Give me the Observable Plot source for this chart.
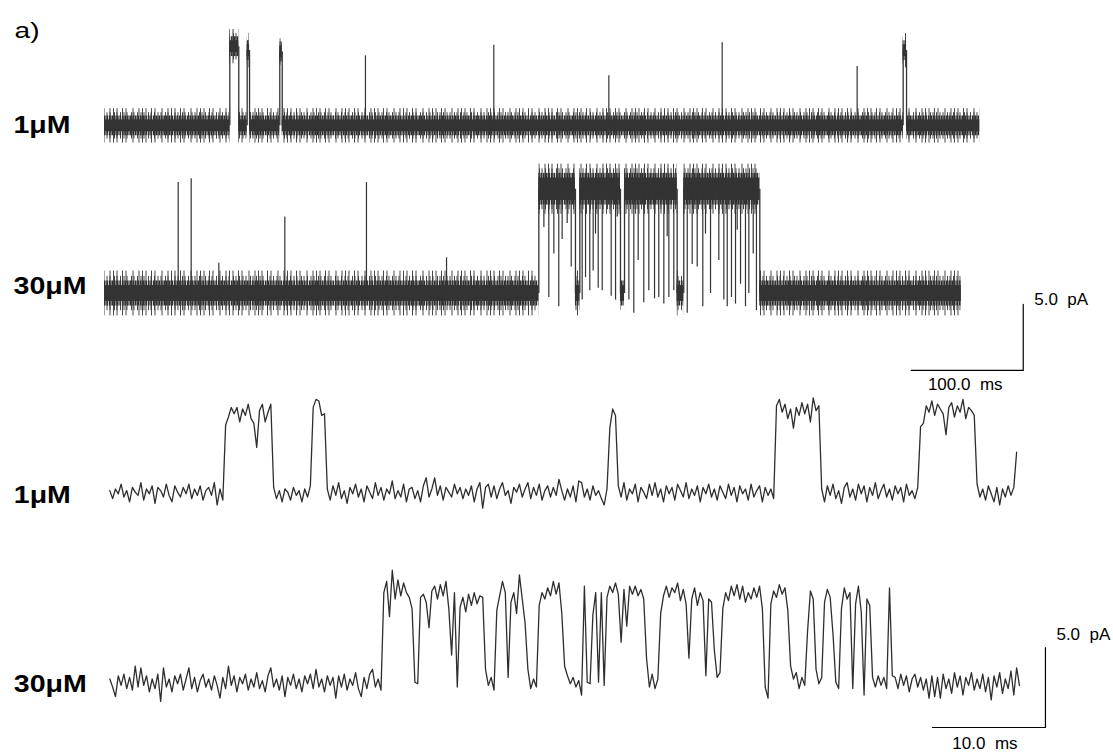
<!DOCTYPE html>
<html>
<head>
<meta charset="utf-8">
<script src="https://cdn.jsdelivr.net/npm/d3@7"></script>
<script src="https://cdn.jsdelivr.net/npm/@observablehq/plot@0.6"></script>
<style>
  html, body { margin: 0; padding: 0; background: #fff; overflow: hidden; }
  #figure { position: relative; width: 1113px; height: 755px; }
  #figure svg { display: block; }
</style>
</head>
<body>
<!-- hatch fills used for the fringes of the compressed noise bands -->
<svg width="0" height="0" style="position:absolute">
  <defs>
    <pattern id="noise-body" patternUnits="userSpaceOnUse" width="13" height="8">
      <rect width="13" height="8" fill="#333" fill-opacity="0.25"/>
      <g stroke="#333" stroke-width="1">
        <line x1="0.5" y1="0" x2="0.5" y2="8"/><line x1="2" y1="0" x2="2" y2="8"/>
        <line x1="3.5" y1="0" x2="3.5" y2="8"/><line x1="5.5" y1="0" x2="5.5" y2="8"/>
        <line x1="7" y1="0" x2="7" y2="8"/><line x1="8.5" y1="0" x2="8.5" y2="8"/>
        <line x1="10.5" y1="0" x2="10.5" y2="8"/><line x1="12" y1="0" x2="12" y2="8"/>
      </g>
    </pattern>
    <pattern id="noise-mid" patternUnits="userSpaceOnUse" width="17" height="8">
      <g stroke="#333" stroke-width="0.9">
        <line x1="1.5" y1="0" x2="1.5" y2="8"/><line x1="5" y1="0" x2="5" y2="8"/>
        <line x1="8" y1="0" x2="8" y2="8"/><line x1="12.5" y1="0" x2="12.5" y2="8"/>
        <line x1="15" y1="0" x2="15" y2="8"/>
      </g>
    </pattern>
    <pattern id="noise-fringe" patternUnits="userSpaceOnUse" width="29" height="8">
      <g stroke="#333" stroke-width="0.9">
        <line x1="1" y1="0" x2="1" y2="8"/><line x1="6.5" y1="0" x2="6.5" y2="8"/>
        <line x1="10" y1="0" x2="10" y2="8"/><line x1="17" y1="0" x2="17" y2="8"/>
        <line x1="23" y1="0" x2="23" y2="8"/><line x1="26.5" y1="0" x2="26.5" y2="8"/>
      </g>
    </pattern>
  </defs>
</svg>
<div id="figure"></div>
<script>
// ---------------------------------------------------------------
// Single-channel recordings at 1 μM and 30 μM agonist.
// Time in ms, current in pA measured from the closed level.
// ---------------------------------------------------------------

const panelLabel = "a)";
const rowLabels = ["1μM", "30μM"];

// ---- long sweeps (upper pair, 100 ms scale) ----
// dwell periods: [start ms, end ms, level pA]
const dwell1uM = [
  [0, 111.9, 0], [111.9, 119.9, 6.0], [119.9, 127.4, 0], [127.4, 129.5, 5.7],
  [129.5, 156.5, 0], [156.5, 158.7, 5.6], [158.7, 713.1, 0], [713.1, 716.1, 5.7],
  [716.1, 781.5, 0]
];
const dwell30uM = [
  [0, 387.8, 0], [387.8, 420.5, 7.9], [420.5, 424.4, 0], [424.4, 460.7, 7.9],
  [460.7, 464.3, 0], [464.3, 511.3, 7.9], [511.3, 517.2, 0], [517.2, 585.1, 7.9],
  [585.1, 765.0, 0]
];
// openings too short to resolve at this scale: [time ms, peak pA]
const brief1uM = [[233.0, 5.3], [347.6, 6.1], [450.3, 3.8], [551.5, 6.3], [672.0, 4.5]];
const brief30uM = [[65.8, 8.4], [77.4, 8.7], [102.1, 2.3], [161.0, 5.8], [233.9, 8.4], [305.4, 2.7]];
// brief closures inside the 30 μM burst: [time ms, lowest pA]
const closures30uM = [
  [392.3, 5.0], [396.7, -0.3], [401.2, 3.0], [405.6, -1.0], [408.6, 4.1], [413.1, 5.3],
  [416.7, 2.0], [426.5, -0.5], [429.5, 1.2], [433.3, 0.2], [436.3, 1.7], [438.4, 4.5],
  [440.8, 0.4], [444.4, 0.2], [452.4, -0.2], [456.3, -0.5], [457.8, 5.8], [468.2, -0.5],
  [472.6, -1.5], [476.5, 2.5], [481.5, -0.7], [486.0, 0.2], [491.1, -0.4], [494.9, -0.3],
  [499.4, -0.8], [502.4, 4.3], [503.9, -0.3], [508.3, 0.2], [520.3, -1.5], [524.7, 2.2],
  [529.2, 2.0], [534.2, -1.0], [536.6, 4.5], [541.1, 0.0], [548.5, 2.5], [553.0, -0.5],
  [556.0, -1.0], [559.8, -0.3], [563.4, -0.8], [564.9, 4.8], [567.9, 0.7], [572.3, -1.0],
  [575.3, 0.0], [579.2, 3.0], [582.1, -1.3]
];
// half-widths (pA) of the noise band, from the dense core out to the rare excursions
const noise1uM = [0.45, 0.75, 1.0, 1.3];
const noise30uMClosed = [0.6, 0.95, 1.3, 1.7];
const noise30uMOpen = [0.85, 1.2, 1.55, 1.9];

// ---- expanded sweeps (lower pair, 10 ms scale), sampled every 0.25 ms ----
const sampleMs = 0.25;
const trace1uM = [
  0.1,-0.4,0.2,-0.1,0.5,-0.3,0.1,-0.6,0.3,0.0,
  -0.2,0.6,-0.5,0.2,-0.1,0.4,-0.7,0.3,0.1,-0.3,
  0.5,-0.2,-0.6,0.4,0.0,-0.3,0.3,-0.1,0.5,-0.4,
  0.2,-0.2,0.4,-0.5,0.1,0.3,-0.2,0.6,-0.8,0.2,
  -0.5,
  4.2,4.7,5.3,4.9,5.3,4.4,5.2,4.8,5.5,4.6,4.3,2.8,5.1,5.5,4.4,5.0,5.5,
  0.3,-0.4,0.1,-0.6,0.2,0.0,-0.5,0.3,-0.2,0.1,-0.6,0.2,-0.3,0.4,
  5.3,5.8,5.7,4.8,4.9,
  0.2,-0.5,0.4,-0.2,0.6,-0.4,0.1,-0.7,0.3,-0.1,
  0.5,-0.3,0.2,-0.6,0.4,0.0,-0.4,0.6,-0.2,0.3,
  -0.5,0.2,-0.1,0.7,-0.4,0.1,-0.3,0.5,-0.6,0.2,
  0.3,-0.4,0.1,-0.6,0.4,0.9,-0.3,0.2,0.9,-0.2,
  0.4,-0.5,0.3,0.0,-0.3,0.5,-0.1,0.3,-0.4,0.2,
  -0.2,0.4,-0.6,0.2,0.6,-1.0,0.3,0.5,-0.3,0.4,
  -0.4,0.2,0.6,-0.2,0.1,-0.7,0.3,0.0,0.5,-0.3,
  0.2,0.6,-0.4,0.3,-0.2,0.5,-0.5,0.1,0.4,-0.3,
  0.3,-0.2,0.8,0.1,-0.5,0.2,-0.3,0.4,-0.6,0.7,
  0.6,-0.3,0.2,-0.5,0.4,-0.2,0.1,-0.4,-0.8,0.2,
  4.0,5.2,4.8,
  0.4,-0.3,0.6,-0.5,0.2,-0.1,0.5,-0.6,0.3,0.0,
  -0.4,0.5,-0.2,0.6,-0.3,0.2,-0.6,0.4,-0.1,0.3,
  -0.5,0.5,0.1,-0.3,0.6,-0.4,0.2,-0.2,0.4,-0.6,
  0.3,-0.1,0.5,-0.3,0.2,-0.5,0.4,0.0,-0.4,0.5,
  -0.2,0.3,-0.6,0.4,-0.1,0.2,-0.5,0.5,-0.3,0.1,
  0.4,-0.6,0.3,-0.2,0.2,-0.4,
  5.4,5.8,5.0,5.5,4.6,5.2,4.0,5.3,4.8,5.6,4.9,5.5,4.4,5.9,5.1,5.4,
  0.2,-0.6,0.4,-0.2,0.5,-0.4,0.1,-0.7,0.3,0.6,
  -0.3,0.2,-0.5,0.5,-0.1,0.4,-0.6,0.3,-0.2,0.6,
  -0.4,0.1,0.5,-0.3,0.2,-0.5,0.4,-0.1,0.3,-0.6,
  0.5,-0.2,0.1,-0.4,0.3,
  4.1,4.3,5.4,5.0,5.7,4.8,5.5,5.2,4.9,3.6,5.3,5.6,4.7,5.4,5.0,5.8,4.6,5.3,5.1,4.8,
  0.5,-0.3,0.2,-0.5,0.4,-0.1,-0.6,0.3,-0.8,0.2,-0.3,0.4,-0.2,0.3,
  2.5
];
const trace30uM = [
  0.2,-0.3,-0.9,0.4,-0.2,0.5,-0.4,0.3,-0.5,1.0,
  -0.3,0.9,-0.2,0.4,-0.6,0.2,-0.4,0.5,-1.2,0.9,
  -0.3,0.2,-0.6,0.4,-0.1,0.5,-0.5,0.2,0.9,-0.4,
  0.3,-0.6,0.1,0.5,-0.3,0.2,-0.5,0.4,-0.2,-1.0,
  0.3,-0.4,1.0,-0.2,0.4,-0.6,0.3,-0.1,0.5,-0.5,
  0.2,-0.3,0.6,-0.4,0.1,-0.6,0.4,0.9,-0.3,0.2,
  -0.5,0.4,-0.9,0.3,-0.2,0.5,-0.4,0.2,-0.6,0.4,
  -0.1,0.5,-0.4,0.8,-0.3,0.2,-0.6,0.4,-0.2,0.3,
  -1.0,0.4,-0.3,0.5,-0.5,0.2,-0.2,0.6,-0.4,-0.9,
  0.3,-0.4,0.5,0.8,-0.3,0.2,-0.5,
  5.6,6.3,4.1,7.0,5.2,6.4,5.4,6.2,5.6,5.3,
  4.6,0.0,-0.1,5.3,5.5,5.0,3.4,5.7,6.0,5.2,
  6.1,5.4,6.3,4.6,1.7,5.6,-0.3,4.7,5.3,4.4,
  5.5,4.8,5.6,4.9,5.4,5.3,0.8,-0.2,0.3,-0.5,
  4.5,5.4,6.3,5.6,0.3,5.0,5.6,4.3,6.7,5.2,
  3.7,0.8,-0.4,0.2,-0.3,4.8,5.6,5.2,5.9,5.4,
  6.3,5.5,6.2,4.3,1.0,0.4,-0.1,0.3,-0.3,0.1,
  -0.8,6.0,0.0,-0.1,4.2,5.6,0.0,5.6,-0.2,5.3,
  6.0,5.6,6.2,5.5,2.5,5.8,3.5,6.0,5.5,6.0,
  5.4,5.8,5.2,1.5,-0.3,0.5,-0.4,0.2,4.3,5.4,
  6.0,5.3,5.9,5.6,6.2,5.1,5.8,4.9,1.5,5.2,
  5.9,4.8,5.6,5.1,0.4,5.2,5.0,2.0,0.3,0.6,
  4.6,5.6,5.1,6.0,5.4,6.1,5.2,6.0,5.0,5.6,
  5.2,5.9,5.3,6.0,4.6,-0.3,-1.0,4.9,5.7,5.3,
  6.1,5.5,5.9,4.5,1.0,0.2,0.6,-0.4,0.3,-0.2,
  3.2,5.7,5.2,0.8,-0.1,0.3,5.0,5.8,5.3,3.0,
  0.0,-0.4,4.6,5.9,5.2,5.6,-0.4,4.9,6.0,4.4,
  -0.8,5.2,4.8,0.3,-0.3,0.4,-0.2,0.3,-0.4,5.9,
  0.4,
  0.3,-0.4,0.5,-0.2,0.4,-0.6,0.2,0.5,-0.3,0.3,
  -0.5,0.2,-1.0,0.4,-0.9,0.3,-1.0,0.5,-0.4,0.2,
  -0.7,0.6,-0.3,0.4,-0.8,0.3,-0.2,0.6,-0.5,0.2,
  -0.4,0.5,-0.6,0.3,-1.1,0.4,-0.3,0.6,-0.7,0.2,
  -0.4,0.7,-0.8,0.9,-0.2
];

// ---- calibration bars ----
const longBar = {endMs: 820.3, basePa: -5.83, ms: 100, pa: 5, timeText: "100.0\u00a0\u00a0ms", ampText: "5.0\u00a0\u00a0pA"};
const zoomBar = {endMs: 82.8, basePa: -2.83, ms: 10, pa: 5, timeText: "10.0\u00a0\u00a0ms", ampText: "5.0\u00a0\u00a0pA"};

// ---------------------------------------------------------------
// drawing
// ---------------------------------------------------------------
const FONT = "'Liberation Sans', Arial, Helvetica, sans-serif";
const TRACE = "#333";
const tierFill = ["#333", "url(#noise-body)", "url(#noise-mid)", "url(#noise-fringe)"];

const longSweeps = [
  {offset: 12.7, dwells: dwell1uM, brief: brief1uM, closures: [], closed: noise1uM, open: noise1uM},
  {offset: 0, dwells: dwell30uM, brief: brief30uM, closures: closures30uM, closed: noise30uMClosed, open: noise30uMOpen}
];

const bands = [], steps = [], spikes = [];
for (const s of longSweeps) {
  s.dwells.forEach(([t0, t1, level], i) => {
    const n = level === 0 ? s.closed : s.open;
    n.forEach((half, tier) => bands.push({tier, t0, t1, lo: s.offset + level - half, hi: s.offset + level + half}));
    if (i > 0) steps.push({t: t0, a: s.offset + s.dwells[i - 1][2], b: s.offset + level});
  });
  for (const [t, peak] of s.brief) spikes.push({t, a: s.offset, b: s.offset + peak});
  for (const [t, low] of s.closures) {
    const d = s.dwells.find(([t0, t1]) => t >= t0 && t <= t1);
    spikes.push({t, a: s.offset + d[2], b: s.offset + low});
  }
}

function barPath(b) {
  return [
    {t: b.endMs - b.ms, v: b.basePa},
    {t: b.endMs, v: b.basePa},
    {t: b.endMs, v: b.basePa + b.pa}
  ];
}

function barMarks(b, ampDx, ampDy, timeDx, timeDy) {
  return [
    Plot.line(barPath(b), {x: "t", y: "v", stroke: "#000", strokeWidth: 1.2}),
    Plot.text([b], {x: "endMs", y: d => d.basePa + d.pa, text: "ampText", textAnchor: "start",
      lineAnchor: "bottom", dx: ampDx, dy: ampDy, fontSize: 17, fill: "#000"}),
    Plot.text([b], {x: d => d.endMs - d.ms / 2, y: "basePa", text: "timeText", textAnchor: "middle",
      lineAnchor: "bottom", dx: timeDx, dy: timeDy, fontSize: 17, fill: "#000"})
  ];
}

function rowLabel(text, offset, dx, dy) {
  return Plot.text([{text, offset}], {x: () => 0, y: "offset", text: "text", textAnchor: "start",
    lineAnchor: "bottom", dx, dy, fontSize: 23.5, fontWeight: "bold", fill: "#000"});
}

const longPlot = Plot.plot({
  width: 1113, height: 395, margin: 0,
  style: {fontFamily: FONT, background: "white"},
  x: {domain: [0, 100], range: [104, 216], axis: null},
  y: {domain: [0, 5], range: [293, 227], axis: null},
  marks: [
    ...[3, 2, 1, 0].map(tier => Plot.rect(bands.filter(d => d.tier === tier),
      {x1: "t0", x2: "t1", y1: "lo", y2: "hi", fill: tierFill[tier]})),
    Plot.ruleX(steps, {x: "t", y1: "a", y2: "b", stroke: TRACE, strokeWidth: 1.3}),
    Plot.ruleX(spikes, {x: "t", y1: "a", y2: "b", stroke: TRACE, strokeWidth: 1.2}),
    ...barMarks(longBar, 11, 1, -2, 20),
    Plot.text([panelLabel], {frameAnchor: "top-left", text: d => d, dx: 14, dy: 37, lineAnchor: "bottom",
      textAnchor: "start", fontSize: 22, fill: "#000"}),
    rowLabel(rowLabels[0], longSweeps[0].offset, -91, 7),
    rowLabel(rowLabels[1], longSweeps[1].offset, -91, 0)
  ]
});

const zoomOffsets = [11.875, 0];
const samples = [trace1uM, trace30uM].flatMap((values, row) =>
  values.map((v, i) => ({row, t: i * sampleMs, v: zoomOffsets[row] + v})));

const zoomPlot = Plot.plot({
  width: 1113, height: 360, margin: 0,
  style: {fontFamily: FONT, background: "white"},
  x: {domain: [0, 10], range: [109.3, 222.3], axis: null},
  y: {domain: [0, 5], range: [286.7, 206.7], axis: null},
  marks: [
    Plot.line(samples, {x: "t", y: "v", z: "row", stroke: "#2e2e2e", strokeWidth: 1.3}),
    ...barMarks(zoomBar, 11, -7, -4, 22),
    rowLabel(rowLabels[0], zoomOffsets[0], -96, 11),
    rowLabel(rowLabels[1], zoomOffsets[1], -96, 10)
  ]
});

const figure = document.getElementById("figure");
figure.append(longPlot, zoomPlot);

// stretch the bold row labels and panel letter to their printed widths
const labelWidths = new Map([["1μM", 57], ["30μM", 73], ["a)", 25]]);
d3.select(figure).selectAll("text").each(function () {
  const w = labelWidths.get(this.textContent);
  if (w) d3.select(this).attr("textLength", w).attr("lengthAdjust", "spacingAndGlyphs");
});
</script>
</body>
</html>
